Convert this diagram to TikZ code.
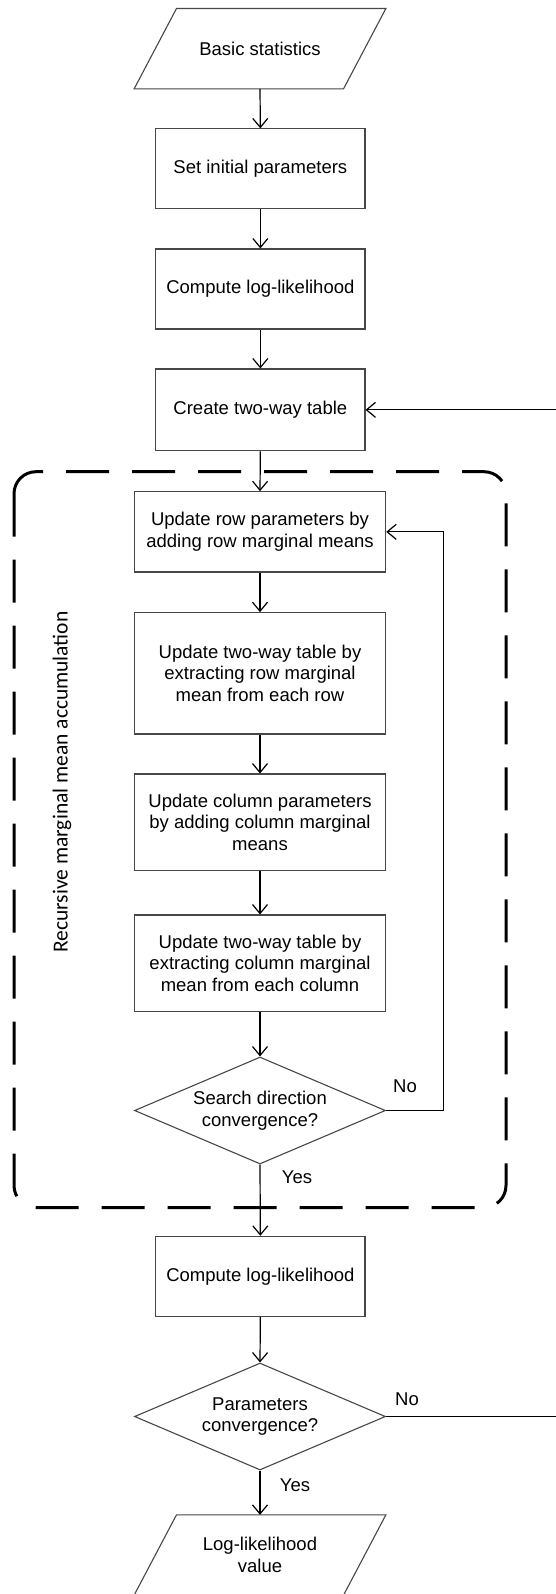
\documentclass[tikz,border=0pt]{standalone}
\usepackage{fontspec}
\setmainfont{Liberation Sans}
\newfontfamily\carl{Carlito}
\usetikzlibrary{arrows.meta,shapes.geometric}
\begin{document}
\begin{tikzpicture}[x=1pt,y=-1pt,
  txt/.style={font=\fontsize{18.5}{21.5}\selectfont, align=center, inner sep=0pt},
  outl/.style={draw=black!72, line width=1.1pt},
  box/.style={txt, outl, minimum width=209.3, minimum height=80},
  wbox/.style={txt, outl, minimum width=251.4},
  dia/.style={txt, outl, shape=diamond, aspect=2.35, minimum width=251, minimum height=107},
  arr/.style={-{Straight Barb[length=9pt,width=15pt]}, line width=1.2pt, black},
  frame/.style={line width=3pt, black, dash pattern=on 43pt off 23pt, rounded corners=22pt}
]
\useasboundingbox (0,0) rectangle (556,1594);
\clip (0,0) rectangle (556,1594);

% start parallelogram
\node[txt, minimum width=209, minimum height=80] (p1) at (260,48.7) {Basic statistics};
\draw[outl] ([xshift=21.2pt]p1.north west) -- ([xshift=21.2pt]p1.north east) -- ([xshift=-21.2pt]p1.south east) -- ([xshift=-21.2pt]p1.south west) -- cycle;

\node[box] (s1) at (260.35,168.9) {Set initial parameters};
\node[box] (c1) at (260.35,289) {Compute log-likelihood};
\node[box, minimum height=81.7] (cr) at (260.35,409.85) {Create two-way table};

\node[wbox, minimum height=80.3] (ur) at (260,531.85) {Update row parameters by\\adding row marginal means};
\node[wbox, minimum height=121.3] (tr) at (260,673.35) {Update two-way table by\\extracting row marginal\\mean from each row};
\node[wbox, minimum height=96.7] (uc) at (260,822.35) {Update column parameters\\by adding column marginal\\means};
\node[wbox, minimum height=96.7] (tc) at (260,963.35) {Update two-way table by\\extracting column marginal\\mean from each column};
\node[dia] (d1) at (260,1110.5) {Search direction\\convergence?};

\node[box] (c2) at (260.35,1276.3) {Compute log-likelihood};
\node[dia] (d2) at (260,1416.5) {Parameters\\convergence?};

\node[txt, minimum width=209, minimum height=80] (p2) at (260,1555) {Log-likelihood\\value};
\draw[outl] ([xshift=21.2pt]p2.north west) -- ([xshift=21.2pt]p2.north east) -- ([xshift=-21.2pt]p2.south east) -- ([xshift=-21.2pt]p2.south west) -- cycle;

% labels
\node[txt] (no1) at (405,1086) {No};
\node[txt] (yes1) at (297,1177) {Yes};
\node[txt] (no2) at (407,1399) {No};
\node[txt] (yes2) at (295,1485) {Yes};

% dashed frame and its label
\draw[frame] (14,471.7) rectangle (506,1207.5);
\node[font=\carl\fontsize{21.5}{26}\selectfont, rotate=90] (lab) at (62,782) {Recursive marginal mean accumulation};

% connectors
\draw[arr] (p1.south) -- (s1.north);
\draw[arr] (s1.south) -- (c1.north);
\draw[arr] (c1.south) -- (cr.north);
\draw[arr] (cr.south) -- (ur.north);
\draw[arr] (ur.south) -- (tr.north);
\draw[arr] (tr.south) -- (uc.north);
\draw[arr] (uc.south) -- (tc.north);
\draw[arr] (tc.south) -- (d1.north);
\draw[arr] (d1.south) -- (c2.north);
\draw[arr] (c2.south) -- (d2.north);
\draw[arr] (d2.south) -- (p2.north);

\coordinate (lp) at (443.3,531.85);
\draw[arr] (d1.east) -| (lp) -- (ur.east);

\coordinate (rA) at (562,1416.5);
\draw[arr] (d2.east) -- (rA) |- (cr.east);
\end{tikzpicture}
\end{document}
